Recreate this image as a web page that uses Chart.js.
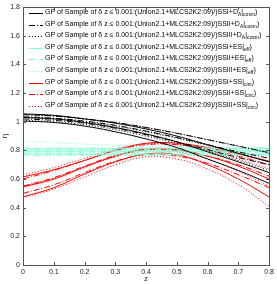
<!DOCTYPE html>
<html><head><meta charset="utf-8">
<script src="https://cdn.jsdelivr.net/npm/chart.js@4.4.1/dist/chart.umd.min.js"></script>
<style>html,body{margin:0;padding:0;background:#fff}#wrap{width:277px;height:284px}</style>
</head><body><div id="wrap"><canvas id="c" width="277" height="284"></canvas></div>
<script>
const zValues = [0, 0.1, 0.2, 0.3, 0.4, 0.5, 0.6, 0.7, 0.8];
const xTicks = [0, 0.1, 0.2, 0.3, 0.4, 0.5, 0.6, 0.7, 0.8];
const yTicks = [0, 0.2, 0.4, 0.6, 0.8, 1, 1.2, 1.4, 1.6, 1.8];

// D_A cosm (black)
const daSSI_mean  = [1.030, 1.020, 0.995, 0.960, 0.915, 0.860, 0.790, 0.720, 0.645];
const daSSI_up    = [1.055, 1.045, 1.020, 0.990, 0.950, 0.900, 0.840, 0.780, 0.720];
const daSSI_lo    = [1.005, 0.995, 0.970, 0.930, 0.880, 0.820, 0.740, 0.660, 0.570];
const daSSII_mean = [1.035, 1.025, 1.005, 0.975, 0.935, 0.890, 0.840, 0.790, 0.745];
const daSSII_up   = [1.050, 1.040, 1.020, 0.995, 0.960, 0.920, 0.875, 0.830, 0.785];
const daSSII_lo   = [1.020, 1.010, 0.990, 0.955, 0.910, 0.860, 0.805, 0.750, 0.700];
const daSSIII_mean= [1.030, 1.020, 1.000, 0.970, 0.930, 0.885, 0.835, 0.780, 0.720];
const daSSIII_up  = [1.050, 1.040, 1.020, 0.995, 0.960, 0.920, 0.875, 0.830, 0.780];
const daSSIII_lo  = [1.010, 1.000, 0.980, 0.945, 0.900, 0.850, 0.795, 0.730, 0.660];

// ES eff (cyan)
const esSSI_mean  = [0.795, 0.795, 0.795, 0.795, 0.795, 0.795, 0.795, 0.795, 0.795];
const esSSI_up    = [0.815, 0.815, 0.815, 0.815, 0.815, 0.815, 0.815, 0.815, 0.815];
const esSSI_lo    = [0.775, 0.775, 0.775, 0.775, 0.775, 0.775, 0.775, 0.775, 0.775];
const esSSII_mean = [0.788, 0.788, 0.788, 0.788, 0.788, 0.788, 0.788, 0.788, 0.788];
const esSSII_up   = [0.805, 0.805, 0.805, 0.805, 0.805, 0.805, 0.805, 0.805, 0.805];
const esSSII_lo   = [0.770, 0.770, 0.770, 0.770, 0.770, 0.770, 0.770, 0.770, 0.770];
const esSSIII_mean= [0.800, 0.800, 0.800, 0.800, 0.798, 0.797, 0.796, 0.795, 0.795];
const esSSIII_up  = [0.865, 0.855, 0.845, 0.835, 0.830, 0.825, 0.822, 0.820, 0.820];
const esSSIII_lo  = [0.760, 0.762, 0.764, 0.765, 0.766, 0.767, 0.767, 0.768, 0.768];

// SS circ (red)
const ssSSI_mean  = [0.545, 0.600, 0.685, 0.760, 0.810, 0.805, 0.760, 0.690, 0.600];
const ssSSI_up    = [0.615, 0.665, 0.730, 0.800, 0.850, 0.850, 0.820, 0.775, 0.725];
const ssSSI_lo    = [0.475, 0.540, 0.635, 0.720, 0.775, 0.770, 0.700, 0.600, 0.475];
const ssSSII_mean = [0.550, 0.610, 0.690, 0.765, 0.805, 0.800, 0.760, 0.700, 0.620];
const ssSSII_up   = [0.600, 0.660, 0.730, 0.800, 0.840, 0.840, 0.810, 0.760, 0.700];
const ssSSII_lo   = [0.500, 0.560, 0.645, 0.725, 0.770, 0.760, 0.710, 0.630, 0.540];
const ssSSIII_mean= [0.550, 0.605, 0.680, 0.755, 0.800, 0.790, 0.740, 0.655, 0.550];
const ssSSIII_up  = [0.630, 0.680, 0.745, 0.810, 0.845, 0.840, 0.800, 0.740, 0.670];
const ssSSIII_lo  = [0.470, 0.530, 0.615, 0.700, 0.755, 0.740, 0.670, 0.560, 0.410];

const labelPrefix = 'GP of Sample of \u03B4 z \u2264 0.001:(Union2.1+MLCS2K2:09)/)';
const legendLabels = [
  [['SSI+D',0],['A',1],['|',0],['cosm',1],[')',0]],
  [['SSII+D',0],['A',1],['|',0],['cosm',1],[')',0]],
  [['SSIII+D',0],['A',1],['|',0],['cosm',1],[')',0]],
  [['SSI+ES|',0],['eff',1],[')',0]],
  [['SSII+ES|',0],['eff',1],[')',0]],
  [['SSIII+ES|',0],['eff',1],[')',0]],
  [['SSI+SS|',0],['circ',1],[')',0]],
  [['SSII+SS|',0],['circ',1],[')',0]],
  [['SSIII+SS|',0],['circ',1],[')',0]]
];

const BLACK = '#000000', CYAN = '#7fffd4', RED = '#ff0000';
const SOLID = [], DASHDOT = [6, 2, 1, 2], DOTTED = [1, 2];

const groups = [
  [BLACK, SOLID, daSSI_mean, daSSI_up, daSSI_lo],
  [BLACK, DASHDOT, daSSII_mean, daSSII_up, daSSII_lo],
  [BLACK, DOTTED, daSSIII_mean, daSSIII_up, daSSIII_lo],
  [CYAN, SOLID, esSSI_mean, esSSI_up, esSSI_lo],
  [CYAN, DASHDOT, esSSII_mean, esSSII_up, esSSII_lo],
  [CYAN, DOTTED, esSSIII_mean, esSSIII_up, esSSIII_lo],
  [RED, SOLID, ssSSI_mean, ssSSI_up, ssSSI_lo],
  [RED, DASHDOT, ssSSII_mean, ssSSII_up, ssSSII_lo],
  [RED, DOTTED, ssSSIII_mean, ssSSIII_up, ssSSIII_lo]
];

const datasets = [];
groups.forEach((g, gi) => {
  [2, 3, 4].forEach((k, j) => {
    datasets.push({
      label: 'series' + gi + '_' + j,
      legendIndex: j === 0 ? gi : -1,
      data: zValues.map((z, i) => ({x: z, y: g[k][i]})),
      borderColor: g[0],
      borderDash: g[1],
      borderWidth: 1,
      pointRadius: 0,
      fill: false,
      tension: 0.4
    });
  });
});

const FONT = 'Liberation Sans, Arial, sans-serif';
const fmt = v => String(Number(Number(v).toFixed(1)));

const framePlugin = {
  id: 'frame',
  afterDatasetsDraw(chart) {
    const ctx = chart.ctx, a = chart.chartArea;
    const xs = chart.scales.x, ys = chart.scales.y;
    ctx.save();
    ctx.strokeStyle = '#555';
    ctx.lineWidth = 1;
    ctx.setLineDash([]);
    ctx.strokeRect(Math.round(a.left) + 0.5, Math.round(a.top) + 0.5, Math.round(a.right - a.left), Math.round(a.bottom - a.top));
    const tl = 3;
    ctx.beginPath();
    xTicks.forEach(v => {
      const px = Math.round(xs.getPixelForValue(v)) + 0.5;
      ctx.moveTo(px, a.bottom); ctx.lineTo(px, a.bottom - tl);
      ctx.moveTo(px, a.top); ctx.lineTo(px, a.top + tl);
    });
    yTicks.forEach(v => {
      const py = Math.round(ys.getPixelForValue(v)) + 0.5;
      ctx.moveTo(a.left, py); ctx.lineTo(a.left + tl, py);
      ctx.moveTo(a.right, py); ctx.lineTo(a.right - tl, py);
    });
    ctx.stroke();

    // legend
    const x0 = 29, len = 14, tx = 45, y0 = 13, dy = 11.6;
    chart.data.datasets.forEach(ds => {
      if (ds.legendIndex < 0) return;
      const i = ds.legendIndex;
      const y = Math.round(y0 + i * dy) + 0.5;
      ctx.strokeStyle = ds.borderColor;
      ctx.setLineDash(ds.borderDash);
      ctx.beginPath();
      ctx.moveTo(x0, y); ctx.lineTo(x0 + len, y);
      ctx.stroke();
      ctx.setLineDash([]);
      ctx.fillStyle = '#000';
      ctx.textBaseline = 'middle';
      ctx.textAlign = 'left';
      ctx.font = '7px ' + FONT;
      let x = tx;
      ctx.fillText(labelPrefix, x, y - 1);
      x += ctx.measureText(labelPrefix).width;
      legendLabels[i].forEach(([t, sub]) => {
        ctx.font = (sub ? '5px ' : '7px ') + FONT;
        ctx.fillText(t, x, sub ? y + 1.5 : y - 1);
        x += ctx.measureText(t).width;
      });
    });
    ctx.restore();
  }
};

new Chart(document.getElementById('c'), {
  type: 'line',
  data: { datasets },
  options: {
    responsive: false,
    animation: false,
    devicePixelRatio: 1,
    layout: { padding: { top: 6, right: 7, left: 0, bottom: 0 } },
    plugins: { legend: { display: false }, tooltip: { enabled: false } },
    scales: {
      x: {
        type: 'linear', min: 0, max: 0.8,
        afterBuildTicks: s => { s.ticks = xTicks.map(v => ({value: v})); },
        afterFit: s => { s.height = 19; },
        grid: { display: false, drawTicks: false },
        border: { display: false },
        ticks: { padding: 3, maxRotation: 0, color: '#222', font: { size: 7, family: FONT }, callback: fmt },
        title: { display: true, text: 'z', color: '#222', font: { size: 8, family: FONT }, padding: { top: 0, bottom: 0 } }
      },
      y: {
        type: 'linear', min: 0, max: 1.8,
        afterBuildTicks: s => { s.ticks = yTicks.map(v => ({value: v})); },
        afterFit: s => { s.width = 23; },
        grid: { display: false, drawTicks: false },
        border: { display: false },
        ticks: { padding: 3, color: '#222', font: { size: 7, family: FONT }, callback: fmt },
        title: { display: true, text: '\u03B7', color: '#222', font: { size: 8, family: FONT }, padding: { top: 0, bottom: 0 } }
      }
    }
  },
  plugins: [framePlugin]
});
</script>
</body></html>
